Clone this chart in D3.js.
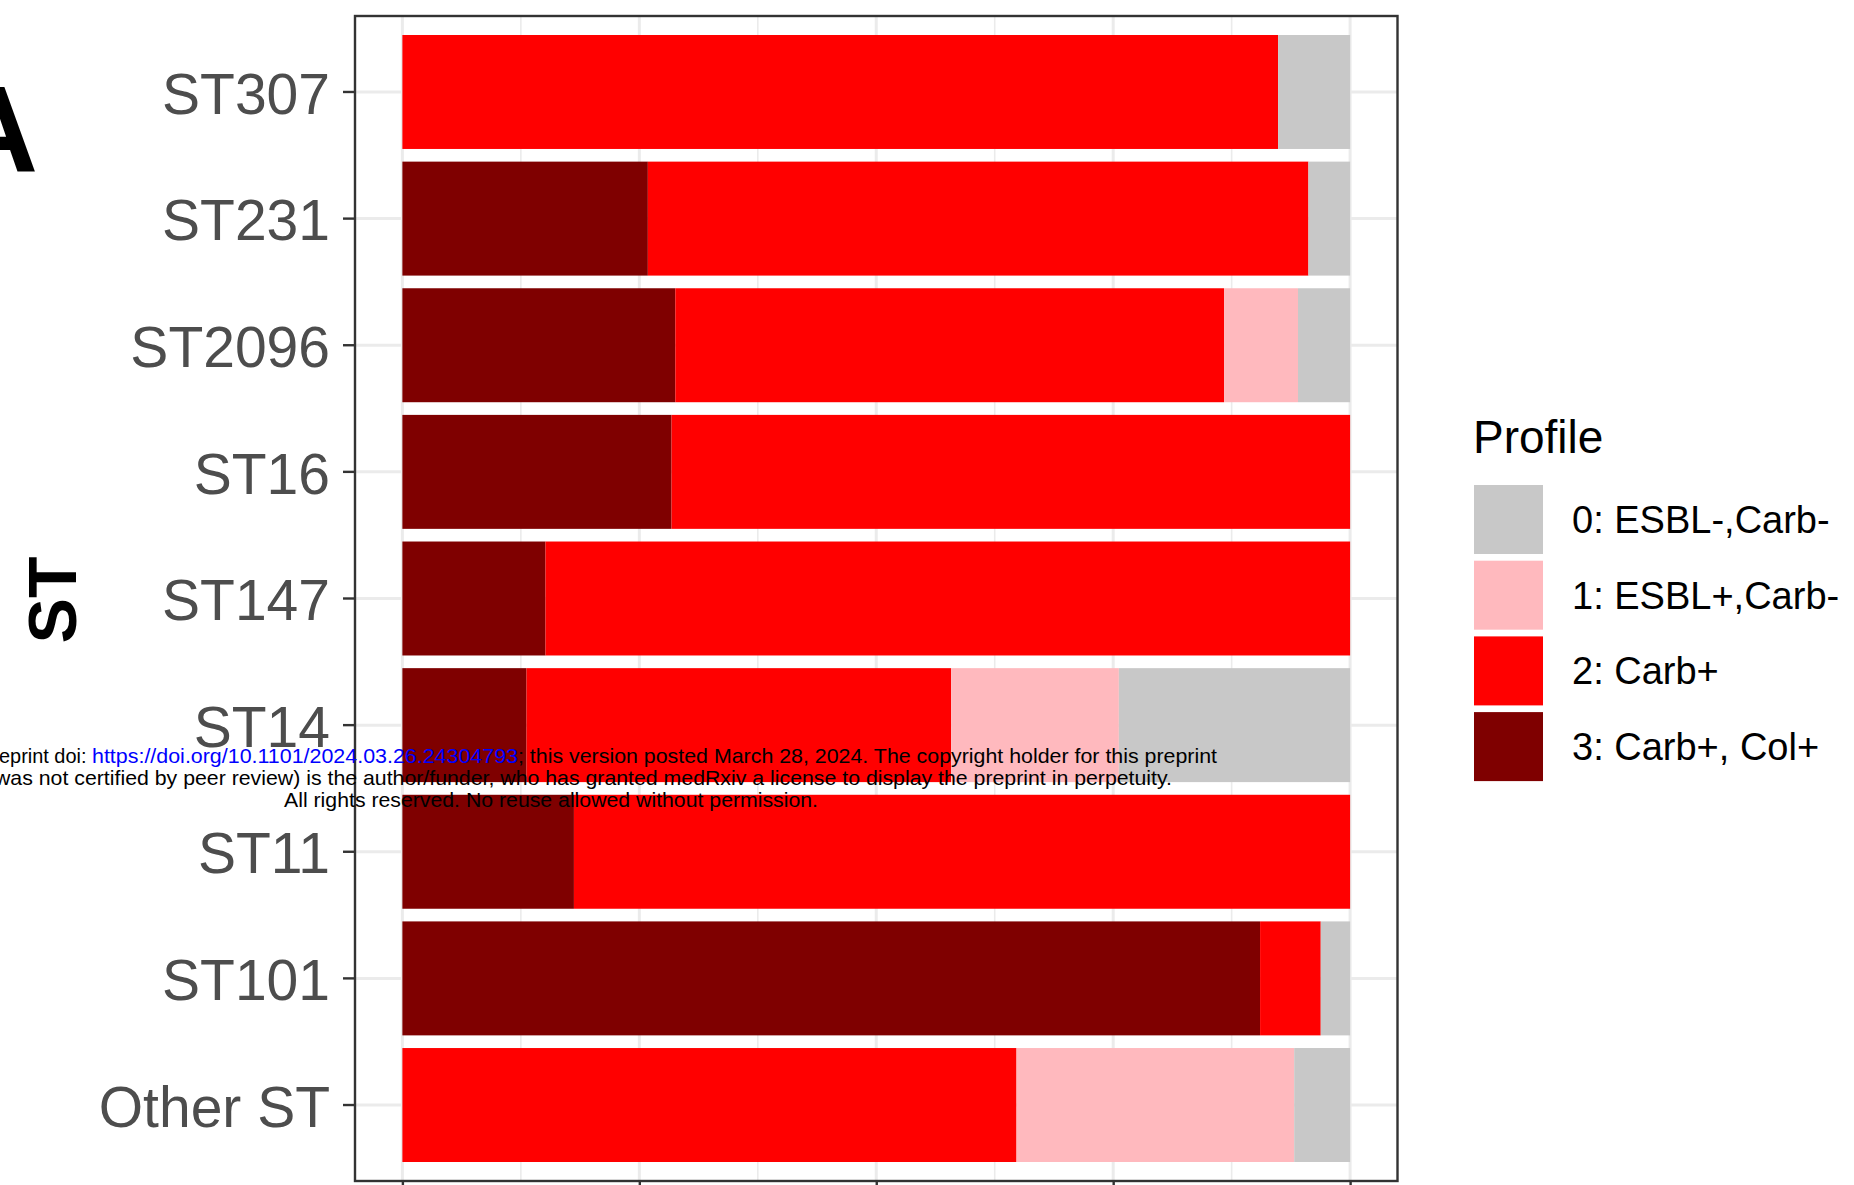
<!DOCTYPE html>
<html>
<head>
<meta charset="utf-8">
<script src="https://cdn.jsdelivr.net/npm/d3@7"></script>
<style>
  html, body { margin: 0; padding: 0; background: #ffffff; overflow: hidden; }
  svg { display: block; }
</style>
</head>
<body>
<svg id="chart" width="1854" height="1185"></svg>
<script>
// Sequence types, top to bottom
const categories = ["ST307", "ST231", "ST2096", "ST16", "ST147", "ST14", "ST11", "ST101", "Other ST"];

// Resistance profile legend entries and fills
const profileLabels = ["0: ESBL-,Carb-", "1: ESBL+,Carb-", "2: Carb+", "3: Carb+, Col+"];
const profileColors = ["#C8C8C8", "#FFB9BE", "#FF0000", "#7F0000"];

// Proportion of isolates per profile, one value per sequence type
const shareProfile3 = [0.000, 0.259, 0.288, 0.284, 0.151, 0.131, 0.181, 0.905, 0.000];
const shareProfile2 = [0.924, 0.697, 0.579, 0.716, 0.849, 0.448, 0.819, 0.064, 0.648];
const shareProfile1 = [0.000, 0.000, 0.078, 0.000, 0.000, 0.177, 0.000, 0.000, 0.293];
const shareProfile0 = [0.076, 0.044, 0.055, 0.000, 0.000, 0.244, 0.000, 0.031, 0.059];

// Axis breaks
const xMajorTicks = [0, 0.25, 0.5, 0.75, 1];
const xMinorTicks = [0.125, 0.375, 0.625, 0.875];

// Preprint notice lines
const noticeLine1 = ["eprint doi: ", "https://doi.org/10.1101/2024.03.26.24304793", "; this version posted March 28, 2024. The copyright holder for this preprint"];
const noticeLine2 = "was not certified by peer review) is the author/funder, who has granted medRxiv a license to display the preprint in perpetuity.";
const noticeLine3 = "All rights reserved. No reuse allowed without permission.";

const rows = categories.map((st, i) => ({
  st,
  p3: shareProfile3[i],
  p2: shareProfile2[i],
  p1: shareProfile1[i],
  p0: shareProfile0[i]
}));
const stackKeys = ["p3", "p2", "p1", "p0"];
const keyColor = { p0: profileColors[0], p1: profileColors[1], p2: profileColors[2], p3: profileColors[3] };

const svg = d3.select("#chart");
const font = "'Liberation Sans', Arial, Helvetica, sans-serif";

// Panel geometry
const panel = { left: 355, right: 1397.5, top: 16, bottom: 1181 };
const expand = (panel.right - panel.left) * 0.05 / 1.1;

const x = d3.scaleLinear()
  .domain([0, 1])
  .range([panel.left + expand, panel.right - expand]);

const y = d3.scaleBand()
  .domain(categories)
  .range([panel.top, panel.bottom])
  .paddingInner(0.1)
  .paddingOuter(0.15);

// Panel background
svg.append("rect")
  .attr("x", panel.left).attr("y", panel.top)
  .attr("width", panel.right - panel.left).attr("height", panel.bottom - panel.top)
  .attr("fill", "#ffffff");

// Grid lines
const grid = svg.append("g");
grid.selectAll("line.minor").data(xMinorTicks).join("line")
  .attr("class", "minor")
  .attr("x1", d => x(d)).attr("x2", d => x(d))
  .attr("y1", panel.top).attr("y2", panel.bottom)
  .attr("stroke", "#EBEBEB").attr("stroke-width", 1.6);
grid.selectAll("line.majorx").data(xMajorTicks).join("line")
  .attr("class", "majorx")
  .attr("x1", d => x(d)).attr("x2", d => x(d))
  .attr("y1", panel.top).attr("y2", panel.bottom)
  .attr("stroke", "#EBEBEB").attr("stroke-width", 3);
grid.selectAll("line.majory").data(categories).join("line")
  .attr("class", "majory")
  .attr("x1", panel.left).attr("x2", panel.right)
  .attr("y1", d => y(d) + y.bandwidth() / 2).attr("y2", d => y(d) + y.bandwidth() / 2)
  .attr("stroke", "#EBEBEB").attr("stroke-width", 3);

// Stacked bars
const series = d3.stack().keys(stackKeys)(rows);
svg.append("g").selectAll("g").data(series).join("g")
  .attr("fill", s => keyColor[s.key])
  .selectAll("rect").data(s => s).join("rect")
  .attr("x", d => x(d[0]))
  .attr("width", d => Math.max(0, x(d[1]) - x(d[0])))
  .attr("y", d => y(d.data.st))
  .attr("height", y.bandwidth());

// Panel border
svg.append("rect")
  .attr("x", panel.left).attr("y", panel.top)
  .attr("width", panel.right - panel.left).attr("height", panel.bottom - panel.top)
  .attr("fill", "none").attr("stroke", "#333333").attr("stroke-width", 2.4);

// Y axis
const yAxis = svg.append("g")
  .attr("transform", `translate(${panel.left},0)`)
  .call(d3.axisLeft(y).tickSize(12).tickPadding(13));
yAxis.select(".domain").remove();
yAxis.selectAll(".tick line").attr("stroke", "#333333").attr("stroke-width", 2.4);
yAxis.selectAll(".tick text")
  .attr("fill", "#4D4D4D")
  .attr("font-family", font)
  .attr("font-size", 57)
  .attr("dy", "0.38em");

// X axis tick marks along the bottom edge of the panel
const xAxis = svg.append("g")
  .attr("transform", `translate(0,${panel.bottom})`)
  .call(d3.axisBottom(x).tickValues(xMajorTicks).tickSize(12).tickFormat(""));
xAxis.select(".domain").remove();
xAxis.selectAll(".tick line").attr("stroke", "#333333").attr("stroke-width", 2.4);
xAxis.selectAll(".tick text").remove();

// Y axis title
svg.append("text")
  .attr("transform", "translate(76,600) rotate(-90)")
  .attr("text-anchor", "middle")
  .attr("font-family", font)
  .attr("font-weight", "bold")
  .attr("font-size", 68)
  .attr("fill", "#000000")
  .text("ST");

// Panel letter
svg.append("text")
  .attr("x", -50).attr("y", 172)
  .attr("font-family", font)
  .attr("font-weight", "bold")
  .attr("font-size", 122)
  .attr("fill", "#000000")
  .text("A");

// Legend
const legend = svg.append("g").attr("transform", "translate(1473,0)");
legend.append("text")
  .attr("x", 0).attr("y", 453)
  .attr("font-family", font)
  .attr("font-size", 46)
  .attr("fill", "#000000")
  .text("Profile");
const keyStep = 75.7, keySize = 69, keyTop = 485;
const items = legend.selectAll("g.item").data(profileLabels).join("g")
  .attr("class", "item")
  .attr("transform", (d, i) => `translate(0,${keyTop + i * keyStep})`);
items.append("rect")
  .attr("x", 1).attr("y", 0)
  .attr("width", keySize).attr("height", keySize)
  .attr("fill", (d, i) => profileColors[i]);
items.append("text")
  .attr("x", 99).attr("y", keySize / 2 + 13.5)
  .attr("font-family", font)
  .attr("font-size", 38)
  .attr("fill", "#000000")
  .text(d => d);

// Preprint notice overlay
const notice = svg.append("g").attr("font-family", font).attr("font-size", 21);
const seg1 = [[-1, 92], [92, 518], [518, 1217]];
noticeLine1.forEach((t, i) => {
  notice.append("text")
    .attr("x", seg1[i][0]).attr("y", 763)
    .attr("textLength", seg1[i][1] - seg1[i][0])
    .attr("lengthAdjust", "spacingAndGlyphs")
    .attr("fill", i === 1 ? "#0000FF" : "#000000")
    .style("white-space", "pre")
    .text(t);
});
notice.append("text")
  .attr("x", -5).attr("y", 785)
  .attr("textLength", 1177)
  .attr("lengthAdjust", "spacingAndGlyphs")
  .attr("fill", "#000000")
  .text(noticeLine2);
notice.append("text")
  .attr("x", 284).attr("y", 807)
  .attr("textLength", 534)
  .attr("lengthAdjust", "spacingAndGlyphs")
  .attr("fill", "#000000")
  .text(noticeLine3);
</script>
</body>
</html>
